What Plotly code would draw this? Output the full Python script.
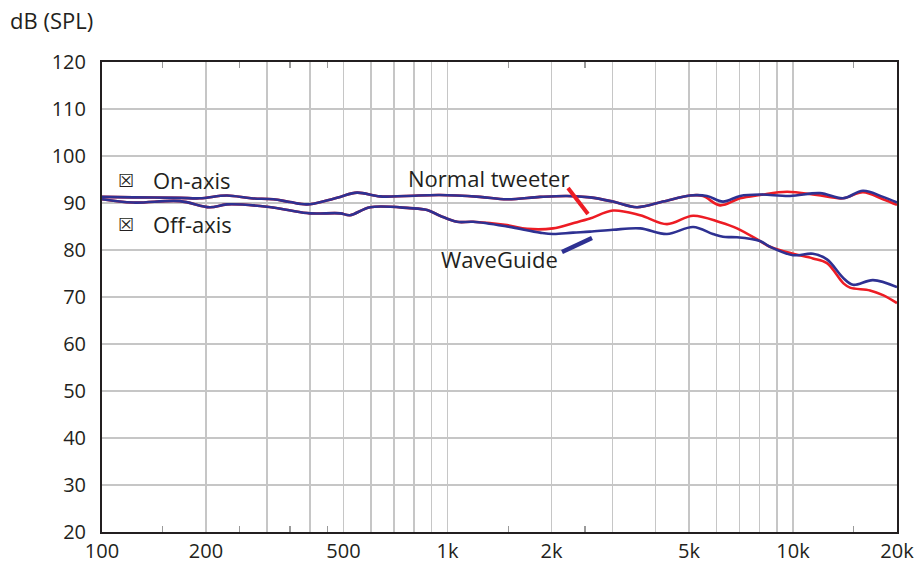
import numpy as np
import plotly.graph_objects as go

# ---- data (frequency in Hz, level in dB SPL) ----
wg_on_freq = [100, 123, 168, 192, 230, 270, 313, 350, 392, 450, 489, 547, 638, 760, 951,
              1240, 1486, 1853, 2218, 2585, 3013, 3536, 4205, 5030, 5637, 6270, 7029,
              8025, 9800, 11970, 13960, 15940, 18220, 20000]
wg_on_db = [91.3, 91.2, 91.1, 91.0, 91.6, 91.0, 90.8, 90.2, 89.7, 90.6, 91.3, 92.2, 91.4,
            91.5, 91.7, 91.3, 90.8, 91.3, 91.5, 91.2, 90.3, 89.1, 90.3, 91.6, 91.5, 90.3,
            91.5, 91.8, 91.5, 92.1, 91.0, 92.6, 91.3, 90.1]

nt_on_freq = [100, 123, 168, 192, 230, 270, 313, 350, 392, 450, 489, 547, 638, 760, 951,
              1240, 1486, 1853, 2218, 2585, 3013, 3536, 4205, 5030, 5490, 6150, 7029,
              8025, 9611, 11720, 13960, 15940, 18220, 20000]
nt_on_db = [91.3, 91.2, 91.1, 91.0, 91.6, 91.0, 90.8, 90.2, 89.7, 90.6, 91.3, 92.2, 91.4,
            91.5, 91.7, 91.3, 90.8, 91.3, 91.5, 91.2, 90.3, 89.1, 90.3, 91.6, 91.5, 89.5,
            91.0, 91.7, 92.4, 91.7, 91.0, 92.3, 90.8, 89.6]

wg_off_freq = [100, 123, 168, 205, 230, 300, 345, 400, 489, 522, 597, 778, 873, 951, 1066,
               1186, 1486, 1853, 2020, 2308, 2585, 3013, 3610, 4318, 5140, 5864, 6270,
               6885, 8025, 8575, 10000, 11420, 12540, 14000, 14920, 17040, 20000]
wg_off_db = [90.8, 90.1, 90.4, 89.1, 89.7, 89.2, 88.5, 87.8, 87.8, 87.4, 89.1, 88.9, 88.5,
             87.3, 86.0, 86.0, 85.0, 83.7, 83.4, 83.7, 83.9, 84.3, 84.6, 83.4, 84.9, 83.4,
             82.8, 82.7, 81.9, 80.7, 78.9, 79.2, 78.0, 74.0, 72.6, 73.6, 72.1]

nt_off_freq = [100, 123, 168, 205, 230, 300, 345, 400, 489, 522, 597, 778, 873, 951, 1066,
               1186, 1486, 1700, 2020, 2308, 2585, 3013, 3610, 4318, 5140, 6150, 6885,
               8025, 8575, 10000, 11420, 12540, 14000, 14620, 16710, 18220, 20000]
nt_off_db = [90.8, 90.1, 90.4, 89.1, 89.7, 89.2, 88.5, 87.8, 87.8, 87.4, 89.1, 88.9, 88.5,
             87.3, 86.0, 86.0, 85.3, 84.5, 84.6, 85.7, 86.7, 88.4, 87.4, 85.5, 87.3, 85.9,
             84.6, 81.9, 80.7, 79.2, 78.2, 77.2, 72.9, 72.0, 71.4, 70.4, 68.7]

x_tick_vals = [100, 200, 500, 1000, 2000, 5000, 10000, 20000]
x_tick_text = ["100", "200", "500", "1k", "2k", "5k", "10k", "20k"]
x_grid_minor = [300, 400, 600, 700, 800, 900, 3000, 4000, 6000, 7000, 8000, 9000]
x_short_ticks = [150, 250, 350, 450, 1500, 2500, 15000]
y_tick_vals = [20, 30, 40, 50, 60, 70, 80, 90, 100, 110, 120]

BLUE = "#2e3192"
RED = "#ed1c24"
TXT = "#231f20"
GRID = "#c6c6c6"
FONT = "Open Sans"

fig = go.Figure()
line_common = dict(width=2.6, shape="spline", smoothing=1.0)
fig.add_trace(go.Scatter(x=nt_on_freq, y=nt_on_db, mode="lines",
                         line=dict(color=RED, **line_common), hoverinfo="skip"))
fig.add_trace(go.Scatter(x=nt_off_freq, y=nt_off_db, mode="lines",
                         line=dict(color=RED, **line_common), hoverinfo="skip"))
fig.add_trace(go.Scatter(x=wg_on_freq, y=wg_on_db, mode="lines",
                         line=dict(color=BLUE, **line_common), hoverinfo="skip"))
fig.add_trace(go.Scatter(x=wg_off_freq, y=wg_off_db, mode="lines",
                         line=dict(color=BLUE, **line_common), hoverinfo="skip"))
# invisible helper trace so the short-tick overlay axis is drawn
fig.add_trace(go.Scatter(x=x_short_ticks[:1], y=y_tick_vals[:1], xaxis="x2", yaxis="y",
                         mode="markers", marker=dict(opacity=0), hoverinfo="skip",
                         showlegend=False))

xr = [2, np.log10(20000)]
fig.update_layout(
    width=917, height=564,
    margin=dict(l=102, r=20, t=62, b=32, autoexpand=False),
    paper_bgcolor="white", plot_bgcolor="white",
    showlegend=False,
    font=dict(family=FONT, size=20, color=TXT),
    xaxis=dict(type="log", range=xr, autorange=False, automargin=False,
               tickvals=x_tick_vals, ticktext=x_tick_text,
               showgrid=True, gridcolor=GRID, gridwidth=1.5,
               minor=dict(tickvals=x_grid_minor, showgrid=True, gridcolor=GRID,
                          gridwidth=1.5, ticks=""),
               showline=True, linecolor=TXT, linewidth=2, mirror=True,
               ticks="", zeroline=False, ticklabelstandoff=0,
               tickfont=dict(family=FONT, size=20, color=TXT)),
    xaxis2=dict(type="log", range=xr, autorange=False, overlaying="x", side="bottom",
                anchor="y", tickvals=x_short_ticks, ticks="inside", ticklen=6,
                tickwidth=1.2, tickcolor="#9a9a9a", showticklabels=False,
                showgrid=False, showline=False, mirror="ticks", zeroline=False,
                automargin=False),
    yaxis=dict(range=[20, 120], autorange=False, tickvals=y_tick_vals, automargin=False,
               showgrid=True, gridcolor=GRID, gridwidth=1.5,
               showline=True, linecolor=TXT, linewidth=2, mirror=True,
               ticks="", zeroline=False, ticklabelstandoff=10,
               tickfont=dict(family=FONT, size=20, color=TXT)),
)

def pxx(px):
    return (px - 102) / 795.0

def pxy(py):
    return (532 - py) / 470.0

ANN = 22
annots = [
    dict(text="dB (SPL)", x=pxx(8), y=pxy(20), xanchor="left", yanchor="middle", size=ANN),
    dict(text="\u2612", x=pxx(126), y=pxy(180), xanchor="center", yanchor="middle", size=18),
    dict(text="On-axis", x=pxx(151), y=pxy(180), xanchor="left", yanchor="middle", size=ANN),
    dict(text="\u2612", x=pxx(126), y=pxy(224), xanchor="center", yanchor="middle", size=18),
    dict(text="Off-axis", x=pxx(151), y=pxy(224), xanchor="left", yanchor="middle", size=ANN),
    dict(text="Normal tweeter", x=pxx(488), y=pxy(178), xanchor="center", yanchor="middle", size=ANN),
    dict(text="WaveGuide", x=pxx(499), y=pxy(259), xanchor="center", yanchor="middle", size=ANN),
]
for a in annots:
    sz = a.pop("size")
    fig.add_annotation(xref="paper", yref="paper", showarrow=False,
                       font=dict(family=FONT, size=sz, color=TXT), **a)

fig.add_shape(type="line", xref="paper", yref="paper",
              x0=pxx(568), y0=pxy(188), x1=pxx(588), y1=pxy(214),
              line=dict(color=RED, width=4))
fig.add_shape(type="line", xref="paper", yref="paper",
              x0=pxx(562), y0=pxy(252), x1=pxx(592), y1=pxy(238),
              line=dict(color=BLUE, width=4.5))

fig.write_html("out.html", config={"displayModeBar": False, "staticPlot": True},
               post_script="document.body.style.margin='0';document.body.style.overflow='hidden';")
